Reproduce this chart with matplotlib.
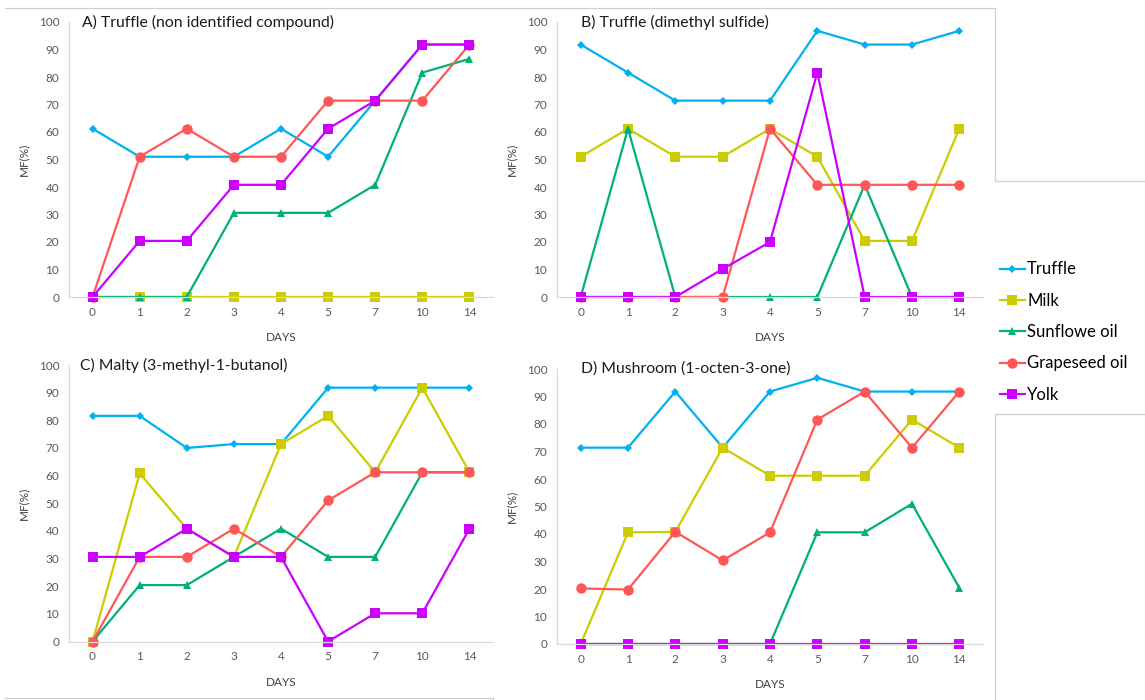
import matplotlib
matplotlib.use("Agg")
import matplotlib.pyplot as plt
from matplotlib.lines import Line2D

plt.rcParams['font.family'] = ['Lato', 'DejaVu Sans']

# x categories (days)
days = ['0', '1', '2', '3', '4', '5', '7', '10', '14']
series_names = ['Truffle', 'Milk', 'Sunflowe oil', 'Grapeseed oil', 'Yolk']

# A) Truffle (non identified compound)
a_truffle = [61.2, 51.0, 51.0, 51.0, 61.2, 51.0, 71.4, 91.8, 91.8]
a_milk = [0, 0, 0, 0, 0, 0, 0, 0, 0]
a_sunflower = [0, 0, 0, 30.6, 30.6, 30.6, 40.8, 81.6, 86.6]
a_grapeseed = [0, 51.0, 61.2, 51.0, 51.0, 71.4, 71.4, 71.4, 91.8]
a_yolk = [0, 20.4, 20.4, 40.8, 40.8, 61.2, 71.4, 91.8, 91.8]

# B) Truffle (dimethyl sulfide)
b_truffle = [91.8, 81.6, 71.4, 71.4, 71.4, 96.8, 91.8, 91.8, 96.8]
b_milk = [51.0, 61.2, 51.0, 51.0, 61.2, 51.0, 20.4, 20.4, 61.2]
b_sunflower = [0, 61.2, 0, 0, 0, 0, 40.8, 0, 0]
b_grapeseed = [0, 0, 0, 0, 61.2, 40.8, 40.8, 40.8, 40.8]
b_yolk = [0, 0, 0, 10.2, 20.0, 81.6, 0, 0, 0]

# C) Malty (3-methyl-1-butanol)
c_truffle = [81.6, 81.6, 70.0, 71.4, 71.4, 91.8, 91.8, 91.8, 91.8]
c_milk = [0, 60.8, 40.8, 30.6, 71.4, 81.6, 61.2, 91.8, 61.2]
c_sunflower = [0, 20.4, 20.4, 30.6, 40.8, 30.6, 30.6, 61.2, 61.2]
c_grapeseed = [0, 30.6, 30.6, 40.8, 30.6, 51.0, 61.2, 61.2, 61.2]
c_yolk = [30.6, 30.6, 40.8, 30.6, 30.6, 0, 10.2, 10.2, 40.8]

# D) Mushroom (1-octen-3-one)
d_truffle = [71.4, 71.4, 91.8, 71.4, 91.8, 96.8, 91.8, 91.8, 91.8]
d_milk = [0, 40.6, 40.8, 71.4, 61.2, 61.2, 61.2, 81.6, 71.4]
d_sunflower = [0, 0, 0, 0, 0, 40.6, 40.6, 51.0, 20.4]
d_grapeseed = [20.2, 19.8, 40.8, 30.4, 40.6, 81.6, 91.8, 71.4, 91.8]
d_yolk = [0, 0, 0, 0, 0, 0, 0, 0, 0]

panels = [
    ("A) Truffle (non identified compound)", [a_truffle, a_milk, a_sunflower, a_grapeseed, a_yolk]),
    ("B) Truffle (dimethyl sulfide)", [b_truffle, b_milk, b_sunflower, b_grapeseed, b_yolk]),
    ("C) Malty (3-methyl-1-butanol)", [c_truffle, c_milk, c_sunflower, c_grapeseed, c_yolk]),
    ("D) Mushroom (1-octen-3-one)", [d_truffle, d_milk, d_sunflower, d_grapeseed, d_yolk]),
]

colors = ['#00B0F0', '#CCCC00', '#00B078', '#FF5757', '#CC00FF']
markers = ['D', 's', '^', 'o', 's']
msizes = [4, 7, 6, 7.5, 7]

W, H = 1145, 700
fig = plt.figure(figsize=(W / 100, H / 100), dpi=100)

# axes boxes in pixels: left, top(100), right, bottom(0)
boxes = [(69, 22, 493, 297), (557, 22, 983, 297),
         (69, 365, 493, 641.5), (557, 369, 983, 644)]
title_x = [0.031, 0.056, 0.026, 0.056]

axes = []
for (title, data), (l, t, r, b), tx in zip(panels, boxes, title_x):
    ax = fig.add_axes([l / W, 1 - b / H, (r - l) / W, (b - t) / H])
    x = range(len(days))
    for vals, c, m, ms, name in zip(data, colors, markers, msizes, series_names):
        ax.plot(x, vals, color=c, marker=m, markersize=ms, lw=1.6, label=name,
                markeredgewidth=0, clip_on=False)
    ax.set_xlim(-0.5, len(days) - 0.5)
    ax.set_ylim(0, 100)
    ax.set_yticks(range(0, 101, 10))
    ax.set_xticks(list(x))
    ax.set_xticklabels(days)
    ax.tick_params(length=0, labelsize=8.5, labelcolor='#595959', pad=7)
    for s in ['top', 'right']:
        ax.spines[s].set_visible(False)
    for s in ['left', 'bottom']:
        ax.spines[s].set_color('#D9D9D9')
        ax.spines[s].set_linewidth(0.9)
    ax.set_xlabel("DAYS", fontsize=8.5, color='#404040')
    ax.set_ylabel("MF(%)", fontsize=8.5, color='#404040')
    ax.xaxis.set_label_coords(0.5, -35 / (b - t))
    ax.yaxis.set_label_coords(-40 / (r - l), 0.5)
    ax.text(tx, 1.0, title, transform=ax.transAxes, va='center', ha='left',
            fontsize=11.3, color='#1a1a1a')
    axes.append(ax)

handles, labels = axes[0].get_legend_handles_labels()
fig.legend(handles, labels, loc='center left', bbox_to_anchor=(993 / W, 1 - 332 / H),
           frameon=False, fontsize=12, handlelength=1.5, handletextpad=0.15,
           labelspacing=0.92, borderaxespad=0)

# light chart-area borders
border = '#D0D0D0'
segs = [([5, 995], [8, 8]), ([995, 995], [8, 181]), ([995, 1145], [181, 181]),
        ([995, 1145], [414, 414]), ([995, 995], [414, 700]),
        ([5, 493], [698, 698]), ([493, 493], [698, 700])]
for xs, ys in segs:
    fig.add_artist(Line2D([v / W for v in xs], [1 - v / H for v in ys],
                          color=border, lw=0.9, transform=fig.transFigure))

plt.savefig("out.png", dpi=100)
